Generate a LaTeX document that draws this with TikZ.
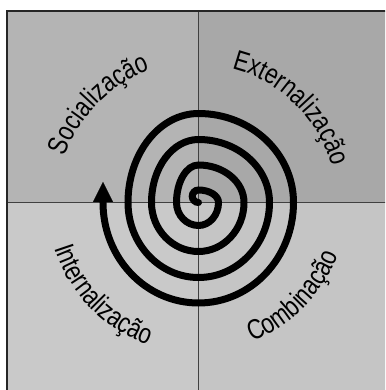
\documentclass[tikz,border=0pt]{standalone}
\usepackage{fontspec}
\newfontfamily\lblfont[FakeStretch=0.8]{Liberation Sans}
\newcommand{\spiralfont}{\lblfont\fontsize{28pt}{32pt}\selectfont}
\usepackage{xcolor}
\definecolor{socgray}{HTML}{B4B4B4}
\definecolor{extgray}{HTML}{A8A8A8}
\definecolor{intgray}{HTML}{C9C9C9}
\definecolor{combgray}{HTML}{C5C5C5}
\usepackage{tikz}
\usetikzlibrary{arrows.meta,decorations.text}
\tikzset{
  quadline/.style ={draw=black!75, line width=1pt},
  frameline/.style={draw=black!85, line width=1.6pt},
  spiral/.style   ={line width=7pt, line cap=round,
                    -{Triangle[width=20pt, length=20pt, line width=0.1pt]}},
  arclabel/.style ={decorate, decoration={text along path, text align=center,
                    text={|\spiralfont|#1}}},
}

\begin{document}
\begin{tikzpicture}[x=1pt, y=1pt]
  \useasboundingbox (-198.5,-187.5) rectangle (186.5,202.5);
  \clip (-198.5,-187.5) rectangle (186.5,202.5);
  \coordinate (c) at (0,0);
  % quadrants
  \fill[socgray]  (-191.5,0) rectangle (0,191.5);
  \fill[extgray]  (0,0) rectangle (191.5,191.5);
  \fill[intgray]  (-191.5,-191.5) rectangle (0,0);
  \fill[combgray] (0,-191.5) rectangle (191.5,0);
  \draw[quadline] (-191.5,0) -- (191.5,0);
  \draw[quadline] (0,-191.5) -- (0,191.5);
  \draw[frameline] (-191.5,-191.5) rectangle (191.5,191.5);
  % spiral
  \draw[spiral] (c) arc[start angle=270, end angle=90, radius=6.25]
    \foreach \t/\r/\b/\l/\n in {12.5/20/23/22/37.5, 37.5/45.5/49/47/63, 63/71/75/70.5/89}{
      arc[start angle=90, end angle=0, x radius=\r, y radius=\t]
      arc[start angle=0, end angle=-90, x radius=\r, y radius=\b]
      arc[start angle=-90, end angle=-180, x radius=\l, y radius=\b]
      arc[start angle=180, end angle=90, x radius=\l, y radius=\n]
    }
    arc[start angle=90, end angle=0, x radius=95, y radius=89]
    arc[start angle=0, end angle=-90, x radius=95, y radius=100.5]
    arc[start angle=-90, end angle=-180, x radius=95.5, y radius=100.5]
    -- ++(0,20.5);
  % labels
  \path[arclabel=Socialização]   (c) ++(172:141) arc[start angle=172, end angle=99, radius=141];
  \path[arclabel=Externalização] (c) ++(88:138)  arc[start angle=88, end angle=3, radius=138];
  \path[arclabel=Internalização] (c) ++(185:151) arc[start angle=185, end angle=263, radius=151];
  \path[arclabel=Combinação]     (c) ++(278:149) arc[start angle=278, end angle=352.4, radius=149];
\end{tikzpicture}
\end{document}
